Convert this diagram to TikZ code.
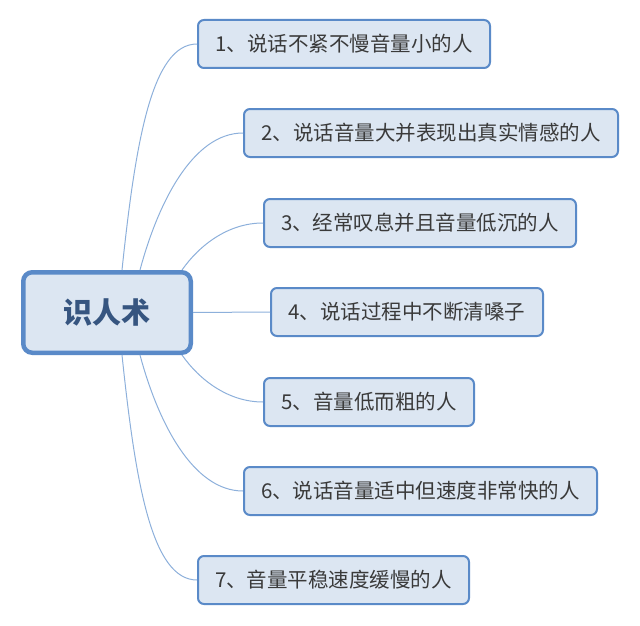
\documentclass[tikz,border=0pt]{standalone}
\usepackage{fontspec}
\setmainfont{Noto Sans CJK SC}
\definecolor{boxfill}{HTML}{DCE6F2}
\definecolor{boxline}{HTML}{5A8AC8}
\definecolor{linkline}{HTML}{8DB0DB}
\definecolor{leaftext}{HTML}{3A3A3A}
\definecolor{coretext}{HTML}{365580}

\begin{document}
\begin{tikzpicture}[x=1pt,y=-1pt,
  mainbox/.style={draw=boxline,fill=boxfill,line width=4.5pt,rounded corners=9pt,
    minimum width=167.5pt,minimum height=80.5pt,inner sep=0pt,
    font=\fontsize{29}{32}\selectfont\bfseries,text=coretext},
  leafbox/.style={draw=boxline,fill=boxfill,line width=2pt,rounded corners=6pt,
    minimum height=48pt,inner sep=0pt,anchor=west,
    font=\fontsize{20.5}{24}\selectfont,text=leaftext},
  branch/.style={draw=linkline,line width=1pt}]

\useasboundingbox (0,0) rectangle (640,626);

\node[mainbox] (core) at (107,312.5) {识人术};

\foreach \n/\l/\w/\y/\t in {1/197/292/44/1、说话不紧不慢音量小的人,
                           2/243/374/133/2、说话音量大并表现出真实情感的人,
                           3/263/312/223/3、经常叹息并且音量低沉的人,
                           4/270/272/312/4、说话过程中不断清嗓子,
                           5/263/210/402/5、音量低而粗的人,
                           6/243/353/491/6、说话音量适中但速度非常快的人,
                           7/197/271/580/7、音量平稳速度缓慢的人} {
  \node[leafbox,minimum width=\w pt] (b\n) at (\l,\y) {\t};
}

% branches above
\draw[branch] ([xshift=15pt]core.north) .. controls +(-84:130) and +(-45,0) .. (b1.west);
\draw[branch] ([xshift=33pt]core.north) .. controls +(-75:70) and +(-50,0) .. (b2.west);
\draw[branch] ([xshift=75pt]core.north) .. controls +(-55:30) and +(-35,0) .. (b3.west);
\draw[branch] (core.east) -- (b4.west);
% branches below
\draw[branch] ([xshift=75pt]core.south) .. controls +(55:30) and +(-35,0) .. (b5.west);
\draw[branch] ([xshift=33pt]core.south) .. controls +(75:70) and +(-50,0) .. (b6.west);
\draw[branch] ([xshift=15pt]core.south) .. controls +(84:130) and +(-45,0) .. (b7.west);

\end{tikzpicture}
\end{document}
